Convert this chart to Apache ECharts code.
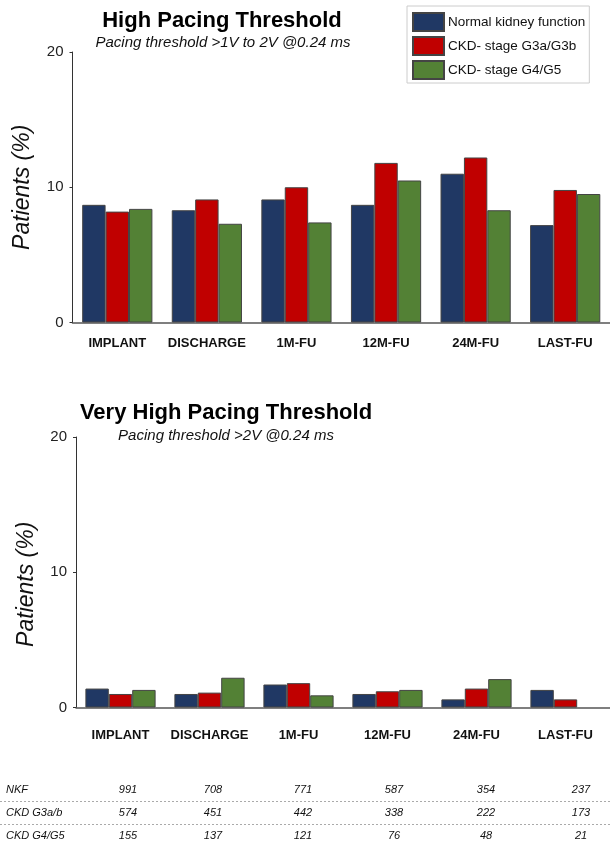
<!DOCTYPE html>
<html>
<head>
<meta charset="utf-8">
<script src="https://cdn.jsdelivr.net/npm/echarts@6/dist/echarts.min.js"></script>
<style>
html,body{margin:0;padding:0;background:#fff;}
#chart{width:610px;height:845px;}
</style>
</head>
<body>
<div id="chart"></div>
<script>
// ---- data ----
const categories = ['IMPLANT', 'DISCHARGE', '1M-FU', '12M-FU', '24M-FU', 'LAST-FU'];
const seriesNames = ['Normal kidney function', 'CKD- stage G3a/G3b', 'CKD- stage G4/G5'];
const yTicks = [0, 10, 20];

// High pacing threshold (>1V to 2V @0.24 ms), % patients
const highNKF = [8.7, 8.3, 9.1, 8.7, 11.0, 7.2];
const highG3 = [8.2, 9.1, 10.0, 11.8, 12.2, 9.8];
const highG4 = [8.4, 7.3, 7.4, 10.5, 8.3, 9.5];

// Very high pacing threshold (>2V @0.24 ms), % patients
const vhighNKF = [1.4, 1.0, 1.7, 1.0, 0.6, 1.3];
const vhighG3 = [1.0, 1.1, 1.8, 1.2, 1.4, 0.6];
const vhighG4 = [1.3, 2.2, 0.9, 1.3, 2.1, null];

// patients at risk table
const tableRowLabels = ['NKF', 'CKD G3a/b', 'CKD G4/G5'];
const nkfN = [991, 708, 771, 587, 354, 237];
const g3N = [574, 451, 442, 338, 222, 173];
const g4N = [155, 137, 121, 76, 48, 21];

// ---- styles / layout ----
const colors = ['#203864', '#C00000', '#538135'];
const FONT = '"Liberation Sans", Arial, sans-serif';
const tableColX = [128, 213, 303, 394, 486, 581];
const tableRowY = [790, 813, 836];

const chart = echarts.init(document.getElementById('chart'), null, {renderer: 'canvas'});

function xAxisFor(gridIndex, margin) {
  return {
    type: 'category', gridIndex: gridIndex, data: categories,
    axisLine: {show: true, lineStyle: {color: '#555', width: 1.5}},
    axisTick: {show: false},
    axisLabel: {margin: margin, fontFamily: FONT, fontWeight: 'bold', fontSize: 13, color: '#111', interval: 0}
  };
}
function yAxisFor(gridIndex, namePad) {
  return {
    type: 'value', gridIndex: gridIndex, min: yTicks[0], max: yTicks[yTicks.length - 1], interval: 10,
    splitLine: {show: false},
    axisLine: {show: true, lineStyle: {color: '#333', width: 1}},
    axisTick: {show: true, length: 3, lineStyle: {color: '#333'}},
    axisLabel: {margin: 9, fontFamily: FONT, fontSize: 15, color: '#222'},
    name: 'Patients (%)', nameLocation: 'middle', nameRotate: 90, nameGap: 38,
    nameTextStyle: {fontFamily: FONT, fontStyle: 'italic', fontSize: 23, color: '#111', padding: namePad}
  };
}
function barSeries(name, idx, data, axisIdx) {
  return {
    type: 'bar', name: name, data: data, xAxisIndex: axisIdx, yAxisIndex: axisIdx,
    barWidth: 23.4, barGap: '0%',
    itemStyle: {color: colors[idx], borderColor: '#444', borderWidth: 1},
    emphasis: {disabled: true}, animation: false
  };
}

const graphics = [
  {type: 'text', x: 222, y: 21, style: {text: 'High Pacing Threshold', font: 'bold 22px ' + FONT, fill: '#000', textAlign: 'center', textVerticalAlign: 'middle'}},
  {type: 'text', x: 223, y: 43, style: {text: 'Pacing threshold >1V to 2V @0.24 ms', font: 'italic 15px ' + FONT, fill: '#111', textAlign: 'center', textVerticalAlign: 'middle'}},
  {type: 'text', x: 226, y: 413, style: {text: 'Very High Pacing Threshold', font: 'bold 22px ' + FONT, fill: '#000', textAlign: 'center', textVerticalAlign: 'middle'}},
  {type: 'text', x: 226, y: 436, style: {text: 'Pacing threshold >2V @0.24 ms', font: 'italic 15px ' + FONT, fill: '#111', textAlign: 'center', textVerticalAlign: 'middle'}}
];
const tableData = [nkfN, g3N, g4N];
tableRowLabels.forEach(function (lab, r) {
  graphics.push({type: 'text', x: 6, y: tableRowY[r], style: {text: lab, font: 'italic 11px ' + FONT, fill: '#111', textAlign: 'left', textVerticalAlign: 'middle'}});
  tableData[r].forEach(function (v, c) {
    graphics.push({type: 'text', x: tableColX[c], y: tableRowY[r], style: {text: String(v), font: 'italic 11px ' + FONT, fill: '#111', textAlign: 'center', textVerticalAlign: 'middle'}});
  });
  if (r < tableRowLabels.length - 1) {
    const ly = (tableRowY[r] + tableRowY[r + 1]) / 2;
    graphics.push({type: 'line', shape: {x1: 0, y1: ly, x2: 610, y2: ly}, style: {stroke: '#aaa', lineWidth: 1, lineDash: [2, 2]}});
  }
});

const option = {
  backgroundColor: '#fff',
  animation: false,
  legend: {
    orient: 'vertical', left: 407, top: 6,
    padding: [6, 4, 3, 5], itemGap: 4, itemWidth: 31, itemHeight: 18,
    borderColor: '#ccc', borderWidth: 1,
    icon: 'rect',
    data: seriesNames,
    selectedMode: false,
    textStyle: {fontFamily: FONT, fontSize: 13.5, color: '#111', padding: [0, 0, 0, -1]}
  },
  grid: [
    {left: 72.5, top: 52, width: 546, height: 270.5},
    {left: 76, top: 437, width: 546, height: 270.5}
  ],
  xAxis: [xAxisFor(0, 14), xAxisFor(1, 21)],
  yAxis: [yAxisFor(0, [0, 0, 0, 0]), yAxisFor(1, [0, 24, 0, 0])],
  series: [
    barSeries(seriesNames[0], 0, highNKF, 0),
    barSeries(seriesNames[1], 1, highG3, 0),
    barSeries(seriesNames[2], 2, highG4, 0),
    barSeries(seriesNames[0], 0, vhighNKF, 1),
    barSeries(seriesNames[1], 1, vhighG3, 1),
    barSeries(seriesNames[2], 2, vhighG4, 1)
  ],
  graphic: graphics
};
chart.setOption(option);
</script>
</body>
</html>
